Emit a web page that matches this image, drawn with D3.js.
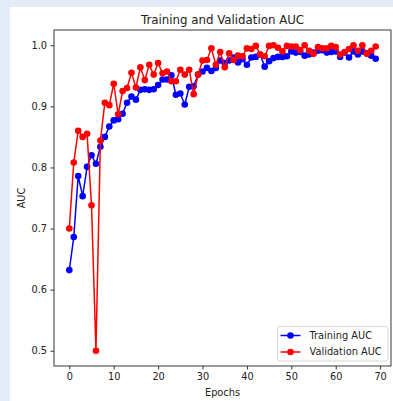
<!DOCTYPE html>
<html>
<head>
<meta charset="utf-8">
<script src="https://cdn.jsdelivr.net/npm/d3@7"></script>
<style>
  html, body { margin: 0; padding: 0; background: #e4edf7; }
  svg { display: block; }
</style>
</head>
<body>
<div id="chart"></div>
<script>
// values
const trainAuc = [
  0.632, 0.686, 0.786, 0.753, 0.801, 0.820, 0.806, 0.834, 0.850, 0.867,
  0.877, 0.879, 0.888, 0.906, 0.916, 0.911, 0.927, 0.928, 0.927, 0.928,
  0.935, 0.944, 0.944, 0.951, 0.919, 0.921, 0.903, 0.932, 0.933, 0.952,
  0.957, 0.963, 0.958, 0.963, 0.975, 0.971, 0.975, 0.980, 0.972, 0.977,
  0.968, 0.980, 0.981, 0.985, 0.965, 0.974, 0.979, 0.981, 0.981, 0.982,
  0.990, 0.988, 0.989, 0.983, 0.985, 0.988, 0.991, 0.992, 0.988, 0.989,
  0.990, 0.981, 0.988, 0.980, 0.990, 0.985, 0.990, 0.987, 0.983, 0.978
];
const valAuc = [
  0.700, 0.808, 0.860, 0.850, 0.855, 0.738, 0.500, 0.844, 0.906, 0.902,
  0.937, 0.887, 0.925, 0.930, 0.955, 0.931, 0.964, 0.943, 0.968, 0.952,
  0.971, 0.954, 0.957, 0.941, 0.941, 0.960, 0.952, 0.960, 0.920, 0.952,
  0.975, 0.976, 0.995, 0.968, 0.989, 0.964, 0.987, 0.976, 0.983, 0.982,
  0.995, 0.994, 0.999, 0.985, 0.982, 0.999, 1.000, 0.996, 0.990, 0.999,
  0.998, 0.998, 0.992, 1.000, 0.991, 0.986, 0.997, 0.995, 0.995, 0.999,
  0.997, 0.985, 0.989, 0.994, 1.000, 0.991, 1.000, 0.986, 0.991, 0.998
];
const xTicks = [0, 10, 20, 30, 40, 50, 60, 70];
const yTicks = [0.5, 0.6, 0.7, 0.8, 0.9, 1.0];
const seriesNames = ['Training AUC', 'Validation AUC'];
const seriesColors = ['#0000ff', '#ff0000'];

const width = 393;
const height = 401;
const plot = { left: 54, right: 391, top: 30, bottom: 366 };
const font = '"DejaVu Sans", sans-serif';
const fs = '9.8px';
const markerR = 3.3;

const svg = d3.select('#chart')
    .append('svg')
    .attr('width', width)
    .attr('height', height);

// white figure area (page background shows at left/top)
svg.append('rect')
    .attr('x', 10).attr('y', 7)
    .attr('width', width - 10).attr('height', height - 7)
    .attr('fill', '#ffffff');

const n = trainAuc.length;
const xScale = d3.scaleLinear()
    .domain([-(n - 1) * 0.05, (n - 1) * 1.05])
    .range([plot.left, plot.right]);
const yScale = d3.scaleLinear()
    .domain([0.475, 1.025])
    .range([plot.bottom, plot.top]);

// axes
const xAxis = svg.append('g')
    .attr('transform', 'translate(0,' + plot.bottom + ')')
    .call(d3.axisBottom(xScale).tickValues(xTicks).tickSize(3.5).tickPadding(3.5).tickFormat(d3.format('d')));
const yAxis = svg.append('g')
    .attr('transform', 'translate(' + plot.left + ',0)')
    .call(d3.axisLeft(yScale).tickValues(yTicks).tickSize(3.5).tickPadding(3.5).tickFormat(d3.format('.1f')));

[xAxis, yAxis].forEach(g => {
    g.select('.domain').remove();
    g.selectAll('line').attr('stroke', '#000').attr('stroke-width', 0.8);
    g.selectAll('text')
        .style('font-family', font)
        .style('font-size', fs)
        .attr('fill', '#222');
});

// series
const line = d3.line()
    .x((d, i) => xScale(i))
    .y(d => yScale(d));

[trainAuc, valAuc].forEach((data, k) => {
    const g = svg.append('g');
    g.append('path')
        .datum(data)
        .attr('d', line)
        .attr('fill', 'none')
        .attr('stroke', seriesColors[k])
        .attr('stroke-width', 1.5);
    g.selectAll('circle')
        .data(data)
        .enter()
        .append('circle')
        .attr('cx', (d, i) => xScale(i))
        .attr('cy', d => yScale(d))
        .attr('r', markerR)
        .attr('fill', seriesColors[k]);
});

// spines
svg.append('rect')
    .attr('x', plot.left).attr('y', plot.top)
    .attr('width', plot.right - plot.left)
    .attr('height', plot.bottom - plot.top)
    .attr('fill', 'none')
    .attr('stroke', '#222')
    .attr('stroke-width', 0.9);

// title and axis labels
svg.append('text')
    .attr('x', (plot.left + plot.right) / 2)
    .attr('y', 23.5)
    .attr('text-anchor', 'middle')
    .style('font-family', font)
    .style('font-size', '11.8px')
    .attr('fill', '#222')
    .text('Training and Validation AUC');

svg.append('text')
    .attr('x', (plot.left + plot.right) / 2)
    .attr('y', 396)
    .attr('text-anchor', 'middle')
    .style('font-family', font)
    .style('font-size', fs)
    .attr('fill', '#222')
    .text('Epochs');

svg.append('text')
    .attr('transform', 'translate(25,' + (plot.top + plot.bottom) / 2 + ')rotate(-90)')
    .attr('text-anchor', 'middle')
    .style('font-family', font)
    .style('font-size', fs)
    .attr('fill', '#222')
    .text('AUC');

// legend
const legend = svg.append('g').attr('transform', 'translate(277.5,326.5)');
legend.append('rect')
    .attr('width', 110.5).attr('height', 34.5)
    .attr('rx', 2.5)
    .attr('fill', '#fff').attr('fill-opacity', 0.8)
    .attr('stroke', '#cccccc').attr('stroke-width', 0.8);
seriesNames.forEach((name, k) => {
    const row = legend.append('g').attr('transform', 'translate(0,' + (9 + k * 16.5) + ')');
    row.append('line')
        .attr('x1', 3).attr('x2', 23)
        .attr('stroke', seriesColors[k]).attr('stroke-width', 1.5);
    row.append('circle')
        .attr('cx', 13).attr('r', markerR)
        .attr('fill', seriesColors[k]);
    row.append('text')
        .attr('x', 32).attr('dy', '0.35em')
        .style('font-family', font)
        .style('font-size', fs)
        .attr('fill', '#222')
        .text(name);
});
</script>
</body>
</html>
